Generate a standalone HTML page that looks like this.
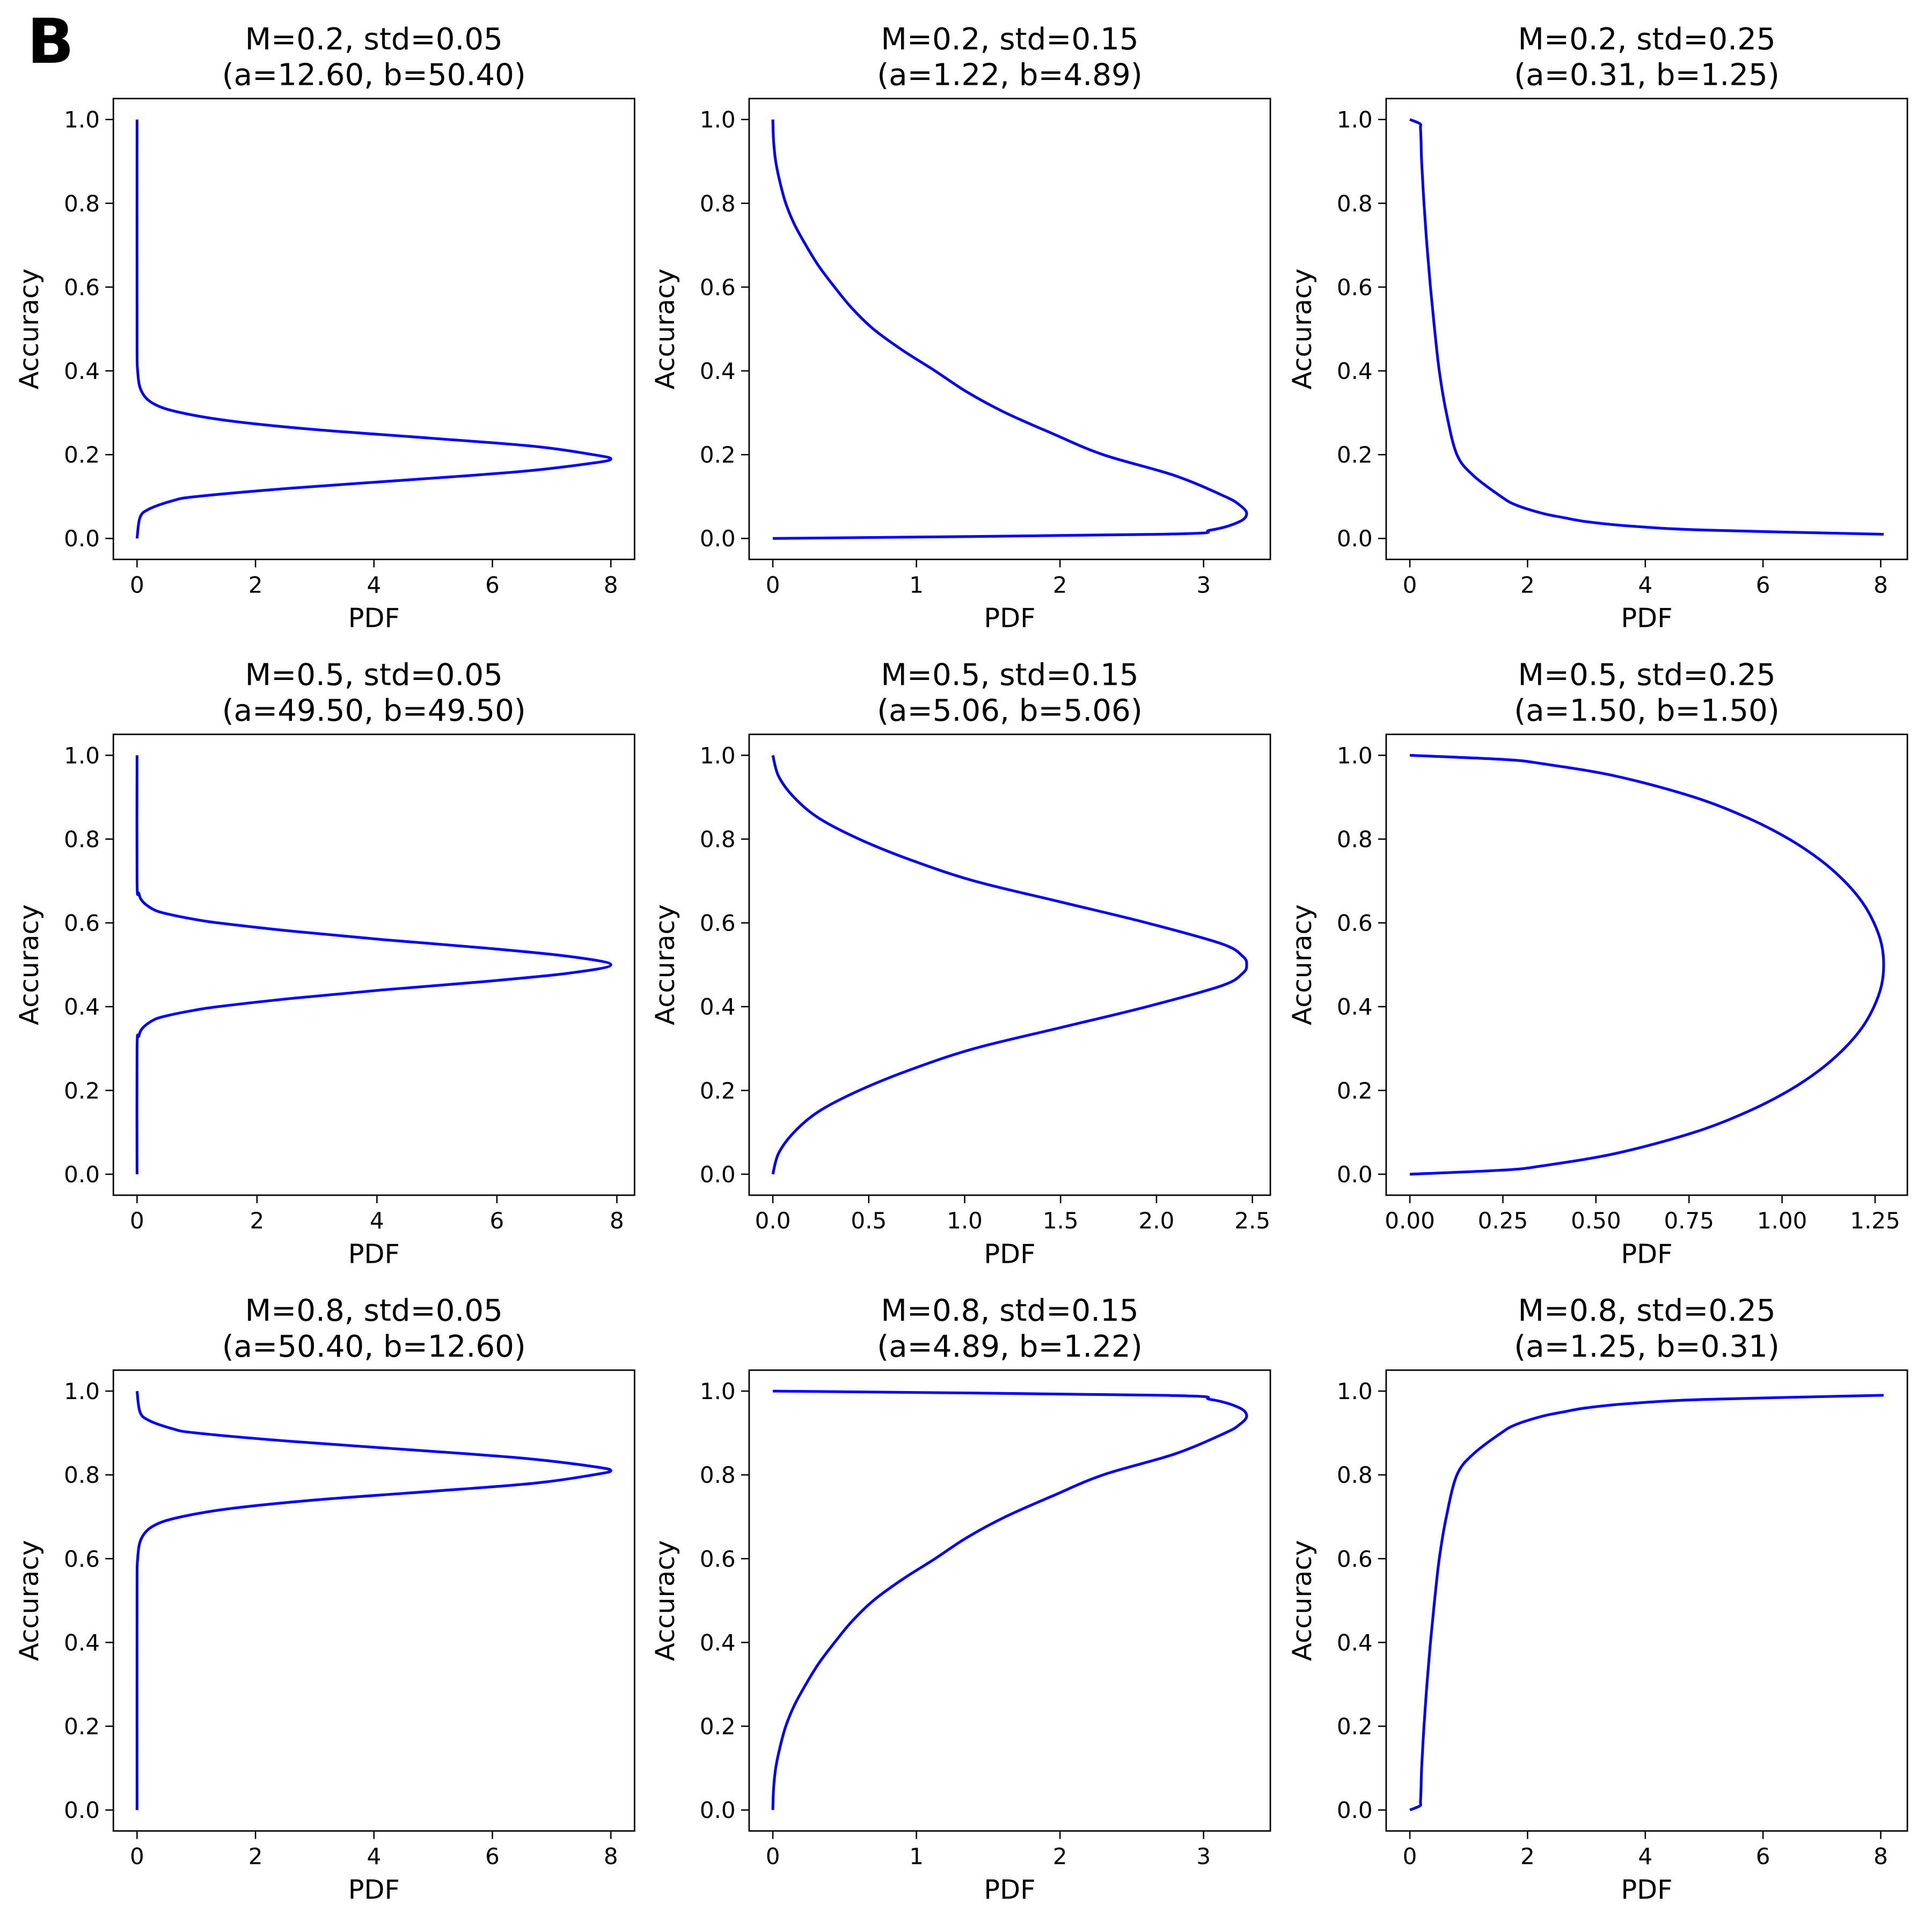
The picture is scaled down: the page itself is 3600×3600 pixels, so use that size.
<!DOCTYPE html>
<html><head><meta charset="utf-8">
<style>
html,body{margin:0;padding:0;background:#fff;}
svg{display:block;}
text{font-family:"DejaVu Sans","Liberation Sans",sans-serif;fill:#000;}
</style></head>
<body>
<svg id="fig" width="3600" height="3600" viewBox="0 0 1568 1568" xmlns="http://www.w3.org/2000/svg">
<rect x="0" y="0" width="1568" height="1568" fill="#fff"/>
<text x="22" y="51" font-size="50" font-weight="bold">B</text>
</svg>
<script>
// ---- data (accuracy values and PDF values) ----
const titles1 = ["M=0.2, std=0.05","M=0.2, std=0.15","M=0.2, std=0.25","M=0.5, std=0.05","M=0.5, std=0.15","M=0.5, std=0.25","M=0.8, std=0.05","M=0.8, std=0.15","M=0.8, std=0.25"];
const titles2 = ["(a=12.60, b=50.40)","(a=1.22, b=4.89)","(a=0.31, b=1.25)","(a=49.50, b=49.50)","(a=5.06, b=5.06)","(a=1.50, b=1.50)","(a=50.40, b=12.60)","(a=4.89, b=1.22)","(a=1.25, b=0.31)"];
const yTicks = [0.0,0.2,0.4,0.6,0.8,1.0];
const yTickLabels = ["0.0","0.2","0.4","0.6","0.8","1.0"];
const xTicks = [[0,2,4,6,8],[0,1,2,3],[0,2,4,6,8],[0,2,4,6,8],[0,0.5,1,1.5,2,2.5],[0,0.25,0.5,0.75,1,1.25],[0,2,4,6,8],[0,1,2,3],[0,2,4,6,8]];
const xTickLabels = [["0","2","4","6","8"],["0","1","2","3"],["0","2","4","6","8"],["0","2","4","6","8"],["0.0","0.5","1.0","1.5","2.0","2.5"],["0.00","0.25","0.50","0.75","1.00","1.25"],["0","2","4","6","8"],["0","1","2","3"],["0","2","4","6","8"]];

const acc1 = [0,0.05,0.07,0.09,0.10,0.12,0.14,0.16,0.18,0.19,0.20,0.22,0.24,0.26,0.28,0.30,0.32,0.35,0.40,0.50,1.0];
const pdf1 = [0,0.05,0.2,0.6,1.0,2.6,4.6,6.5,7.7,8.0,7.7,6.7,4.9,3.0,1.6,0.75,0.3,0.08,0.01,0,0];
const acc2 = [0,0.01,0.02,0.04,0.06,0.08,0.10,0.15,0.20,0.25,0.30,0.35,0.40,0.45,0.50,0.55,0.60,0.65,0.70,0.75,0.80,0.85,0.90,0.95,1.0];
const pdf2 = [0,2.7,3.05,3.25,3.3,3.25,3.15,2.8,2.3,1.95,1.62,1.35,1.13,0.9,0.7,0.55,0.43,0.32,0.23,0.15,0.09,0.05,0.02,0.005,0];
const acc3 = [0.01,0.02,0.03,0.04,0.05,0.06,0.08,0.10,0.15,0.20,0.30,0.40,0.50,0.60,0.70,0.80,0.90,0.95,0.98,0.99,1.0];
const pdf3 = [8.05,5.0,3.7,3.0,2.6,2.25,1.8,1.55,1.08,0.8,0.62,0.5,0.42,0.35,0.29,0.24,0.2,0.19,0.18,0.17,0];
const acc4 = [0,0.30,0.33,0.35,0.37,0.38,0.39,0.40,0.42,0.44,0.46,0.48,0.50,0.52,0.54,0.56,0.58,0.60,0.61,0.62,0.63,0.65,0.67,0.70,1.0];
const pdf4 = [0,0,0.03,0.1,0.3,0.55,0.9,1.35,2.6,4.1,5.8,7.2,7.9,7.2,5.8,4.1,2.6,1.35,0.9,0.55,0.3,0.1,0.03,0,0];
const acc5 = [0,0.05,0.10,0.15,0.20,0.25,0.30,0.35,0.40,0.45,0.48,0.50,0.52,0.55,0.60,0.65,0.70,0.75,0.80,0.85,0.90,0.95,1.0];
const pdf5 = [0,0.03,0.11,0.24,0.45,0.72,1.05,1.5,1.95,2.34,2.45,2.47,2.45,2.34,1.95,1.5,1.05,0.72,0.45,0.24,0.11,0.03,0];
const acc6 = [0,0.01,0.02,0.05,0.10,0.15,0.20,0.25,0.30,0.35,0.40,0.45,0.50,0.55,0.60,0.65,0.70,0.75,0.80,0.85,0.90,0.95,0.98,0.99,1.0];
const pdf6 = [0,0.253,0.356,0.555,0.764,0.909,1.019,1.103,1.167,1.215,1.247,1.267,1.273,1.267,1.247,1.215,1.167,1.103,1.019,0.909,0.764,0.555,0.356,0.253,0];
const acc7 = [0,0.50,0.60,0.65,0.68,0.70,0.72,0.74,0.76,0.78,0.80,0.81,0.82,0.84,0.86,0.88,0.90,0.91,0.93,0.95,1.0];
const pdf7 = [0,0,0.01,0.08,0.3,0.75,1.6,3.0,4.9,6.7,7.7,8.0,7.7,6.5,4.6,2.6,1.0,0.6,0.2,0.05,0];
const acc8 = [0,0.05,0.10,0.15,0.20,0.25,0.30,0.35,0.40,0.45,0.50,0.55,0.60,0.65,0.70,0.75,0.80,0.85,0.90,0.92,0.94,0.96,0.98,0.99,1.0];
const pdf8 = [0,0.005,0.02,0.05,0.09,0.15,0.23,0.32,0.43,0.55,0.7,0.9,1.13,1.35,1.62,1.95,2.3,2.8,3.15,3.25,3.3,3.25,3.05,2.7,0];
const acc9 = [0,0.01,0.02,0.05,0.10,0.20,0.30,0.40,0.50,0.60,0.70,0.80,0.85,0.90,0.92,0.94,0.95,0.96,0.97,0.98,0.99];
const pdf9 = [0,0.17,0.18,0.19,0.2,0.24,0.29,0.35,0.42,0.5,0.62,0.8,1.08,1.55,1.8,2.25,2.6,3.0,3.7,5.0,8.05];

const accs = [acc1,acc2,acc3,acc4,acc5,acc6,acc7,acc8,acc9];
const pdfs = [pdf1,pdf2,pdf3,pdf4,pdf5,pdf6,pdf7,pdf8,pdf9];

// ---- layout ----
const NS = "http://www.w3.org/2000/svg";
const svg = document.getElementById("fig");
const colX = [92,608,1125], rowY = [80,596,1112], W = 423, H = 374;
function mk(tag, attrs, parent){
  const e = document.createElementNS(NS, tag);
  for (const k in attrs) e.setAttribute(k, attrs[k]);
  (parent||svg).appendChild(e);
  return e;
}
function smoothPath(pts){
  let d = "M" + pts[0][0].toFixed(2) + "," + pts[0][1].toFixed(2);
  for (let j = 0; j < pts.length-1; j++) {
    const p0 = pts[Math.max(j-1,0)], p1 = pts[j], p2 = pts[j+1], p3 = pts[Math.min(j+2,pts.length-1)];
    const c1x = p1[0] + (p2[0]-p0[0])/6, c1y = p1[1] + (p2[1]-p0[1])/6;
    const c2x = p2[0] - (p3[0]-p1[0])/6, c2y = p2[1] - (p3[1]-p1[1])/6;
    d += "C" + c1x.toFixed(2) + "," + c1y.toFixed(2) + " " + c2x.toFixed(2) + "," + c2y.toFixed(2) + " " + p2[0].toFixed(2) + "," + p2[1].toFixed(2);
  }
  return d;
}
for (let i = 0; i < 9; i++) {
  const x0 = colX[i%3], y0 = rowY[Math.floor(i/3)];
  const g = mk("g", {});
  
  
  const mx = Math.max(...pdfs[i]);
  const xmin = -0.05*mx, xmax = 1.05*mx;
  const sx = v => x0 + (v - xmin)/(xmax - xmin)*W;
  const sy = v => y0 + (1.05 - v)/1.1*H;
  const t1 = mk("text", {x: x0+W/2, y: y0-40, "font-size": 24.5, "text-anchor": "middle"}, g);
  t1.textContent = titles1[i];
  
  
  const t2 = mk("text", {x: x0+W/2, y: y0-11, "font-size": 24.5, "text-anchor": "middle"}, g);
  t2.textContent = titles2[i];
  
  
  const pts = [];
  for (let j = 0; j < accs[i].length; j++) pts.push([sx(pdfs[i][j]), sy(accs[i][j])]);
  const p = mk("path", {d: smoothPath(pts), fill: "none", stroke: "#0000ff", "stroke-width": 2.2, "stroke-linejoin": "round"}, g);
  
  
  const r = mk("rect", {x: x0, y: y0, width: W, height: H, fill: "none", stroke: "#000", "stroke-width": 1.2}, g);
  
  
  for (let k = 0; k < yTicks.length; k++) {
    const yy = sy(yTicks[k]);
    mk("line", {x1: x0-6.5, x2: x0, y1: yy, y2: yy, stroke: "#000", "stroke-width": 1.1}, g);
    const tl = mk("text", {x: x0-11, y: yy+6.5, "font-size": 18.3, "text-anchor": "end"}, g);
    tl.textContent = yTickLabels[k];
    
    
  }
  for (let k = 0; k < xTicks[i].length; k++) {
    const xx = sx(xTicks[i][k]);
    mk("line", {x1: xx, x2: xx, y1: y0+H, y2: y0+H+6.5, stroke: "#000", "stroke-width": 1.1}, g);
    const tl = mk("text", {x: xx, y: y0+H+27, "font-size": 18.3, "text-anchor": "middle"}, g);
    tl.textContent = xTickLabels[i][k];
    
    
  }
  const xl = mk("text", {x: x0+W/2, y: y0+H+55, "font-size": 21.5, "text-anchor": "middle"}, g);
  xl.textContent = "PDF";
  
  
  const cx = x0-61, cy = y0+H/2;
  const yl = mk("text", {x: cx, y: cy, "font-size": 21.5, "text-anchor": "middle", transform: "rotate(-90 " + cx + " " + cy + ")"}, g);
  yl.textContent = "Accuracy";
  
  
}
</script>
</body></html>
